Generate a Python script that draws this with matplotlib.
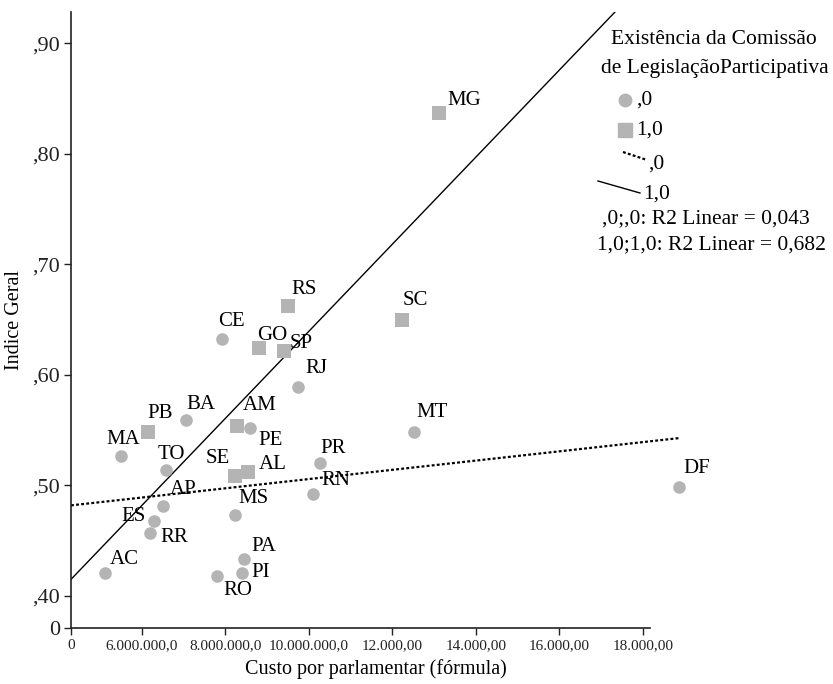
import numpy as np
import matplotlib.pyplot as plt
from matplotlib.lines import Line2D

plt.rcParams['font.family'] = ['Liberation Serif', 'DejaVu Serif']

# states without the commission (,0) -- custo in millions
states_0 = ['AC', 'MA', 'BA', 'CE', 'TO', 'AP', 'ES', 'RR', 'PE', 'MS',
            'PA', 'PI', 'RO', 'RJ', 'PR', 'RN', 'MT', 'DF']
custo_0 = [5.11, 5.49, 7.05, 7.92, 6.57, 6.51, 6.29, 6.19, 8.59, 8.23,
           8.44, 8.39, 7.79, 9.74, 10.26, 10.10, 12.52, 18.86]
indice_0 = [0.421, 0.527, 0.559, 0.633, 0.514, 0.481, 0.468, 0.457, 0.552, 0.473,
            0.433, 0.421, 0.418, 0.589, 0.520, 0.492, 0.548, 0.499]

# states with the commission (1,0)
states_1 = ['MG', 'RS', 'SC', 'GO', 'SP', 'PB', 'AM', 'SE', 'AL']
custo_1 = [13.11, 9.49, 12.22, 8.80, 9.40, 6.14, 8.27, 8.23, 8.54]
indice_1 = [0.837, 0.662, 0.650, 0.624, 0.622, 0.548, 0.554, 0.509, 0.512]

# linear fits: (intercept, slope)
fit_0 = (0.464, 0.00418)
fit_1 = (0.2456, 0.0394)

xticks = [4.30, 6, 8, 10, 12, 14, 16, 18]
xticklabels = ['0', '6.000.000,0', '8.000.000,0', '10.000.000,0',
               '12.000,00', '14.000,00', '16.000,00', '18.000,00']
yticks = [0.371, 0.40, 0.50, 0.60, 0.70, 0.80, 0.90]
yticklabels = ['0', ',40', ',50', ',60', ',70', ',80', ',90']

# label offsets in pixels (text centre relative to point)
offsets = {
    'AC': (19, 13), 'MA': (3, 16), 'BA': (15, 16), 'CE': (9, 17), 'TO': (6, 15),
    'AP': (20, 17), 'ES': (-21, 4), 'RR': (24, -5), 'PE': (20, -12), 'MS': (18, 17),
    'PA': (20, 13), 'PI': (19, 0), 'RO': (21, -14), 'RJ': (18, 19), 'PR': (13, 15),
    'RN': (23, 14), 'MT': (18, 20), 'DF': (18, 18),
    'MG': (26, 13), 'RS': (16, 17), 'SC': (14, 19), 'GO': (13, 13), 'SP': (17, 7),
    'PB': (12, 19), 'AM': (23, 20), 'SE': (-17, 17), 'AL': (25, 8),
}

W, H = 833, 684
fig = plt.figure(figsize=(W / 100, H / 100), dpi=100)
ax = fig.add_axes([71 / W, 56 / H, 609 / W, 616 / H])

grey = '#b4b4b4'
ax.scatter(custo_0, indice_0, s=82, marker='o', color=grey, linewidths=0,
           clip_on=False, zorder=3)
ax.scatter(custo_1, indice_1, s=90, marker='s', color=grey, linewidths=0,
           clip_on=False, zorder=3)

for names, xs, ys in [(states_0, custo_0, indice_0), (states_1, custo_1, indice_1)]:
    for n, x, y in zip(names, xs, ys):
        ax.annotate(n, (x, y), xytext=offsets[n], textcoords='offset pixels',
                    ha='center', va='center', fontsize=15, annotation_clip=False,
                    zorder=4)

ax.set_xlim(4.30, 18.89)
ax.set_ylim(0.371, 0.9285)

xl = np.array(ax.get_xlim())
ax.plot(xl, fit_0[0] + fit_0[1] * xl, color='black', lw=1.6,
        linestyle=(0, (1.3, 1.0)), zorder=2)
ax.plot(xl, fit_1[0] + fit_1[1] * xl, color='black', lw=1.0, zorder=2)

ax.set_xticks(xticks)
ax.set_xticklabels(xticklabels, fontsize=11)
ax.set_yticks(yticks)
ax.set_yticklabels(yticklabels, fontsize=16)
ax.tick_params(direction='out', length=5, width=1, colors='#222222')
ax.tick_params(axis='x', pad=3)
ax.tick_params(axis='y', pad=3)

for s in ['top', 'right']:
    ax.spines[s].set_visible(False)
ax.spines['bottom'].set_bounds(4.30, 18.17)
ax.spines['left'].set_linewidth(1.2)
ax.spines['bottom'].set_linewidth(1.2)
ax.spines['left'].set_color('#222222')
ax.spines['bottom'].set_color('#222222')

ax.set_xlabel('Custo por parlamentar (fórmula)', fontsize=14.5, labelpad=5)
ax.set_ylabel('Indice Geral', fontsize=14.5, labelpad=6)


# legend drawn in figure pixels
def fp(x, y):
    return x / W, 1 - y / H


fs = 15.5
fig.text(*fp(714, 39), 'Existência da Comissão', ha='center', va='center', fontsize=fs)
fig.text(*fp(715, 69), 'de LegislaçãoParticipativa', ha='center', va='center', fontsize=fs)
fig.add_artist(Line2D([fp(625, 100)[0]], [fp(625, 100)[1]], marker='o', markersize=9,
                      color=grey, linestyle='none', transform=fig.transFigure))
fig.text(*fp(636, 100), ',0', ha='left', va='center', fontsize=fs)
fig.add_artist(Line2D([fp(625, 130)[0]], [fp(625, 130)[1]], marker='s', markersize=9.5,
                      color=grey, linestyle='none', transform=fig.transFigure))
fig.text(*fp(636, 130), '1,0', ha='left', va='center', fontsize=fs)
a, b = fp(623, 152), fp(647, 160)
fig.add_artist(Line2D([a[0], b[0]], [a[1], b[1]], color='black', lw=1.6,
                      linestyle=(0, (1.3, 1.0)), transform=fig.transFigure))
fig.text(*fp(648, 164), ',0', ha='left', va='center', fontsize=fs)
a, b = fp(598, 181), fp(640, 193)
fig.add_artist(Line2D([a[0], b[0]], [a[1], b[1]], color='black', lw=1.0,
                      transform=fig.transFigure))
fig.text(*fp(643, 194), '1,0', ha='left', va='center', fontsize=fs)
fig.text(*fp(706, 219), ',0;,0: R2 Linear = 0,043', ha='center', va='center', fontsize=fs)
fig.text(*fp(711, 245), '1,0;1,0: R2 Linear = 0,682', ha='center', va='center', fontsize=fs)

fig.savefig('out.png', dpi=100)
